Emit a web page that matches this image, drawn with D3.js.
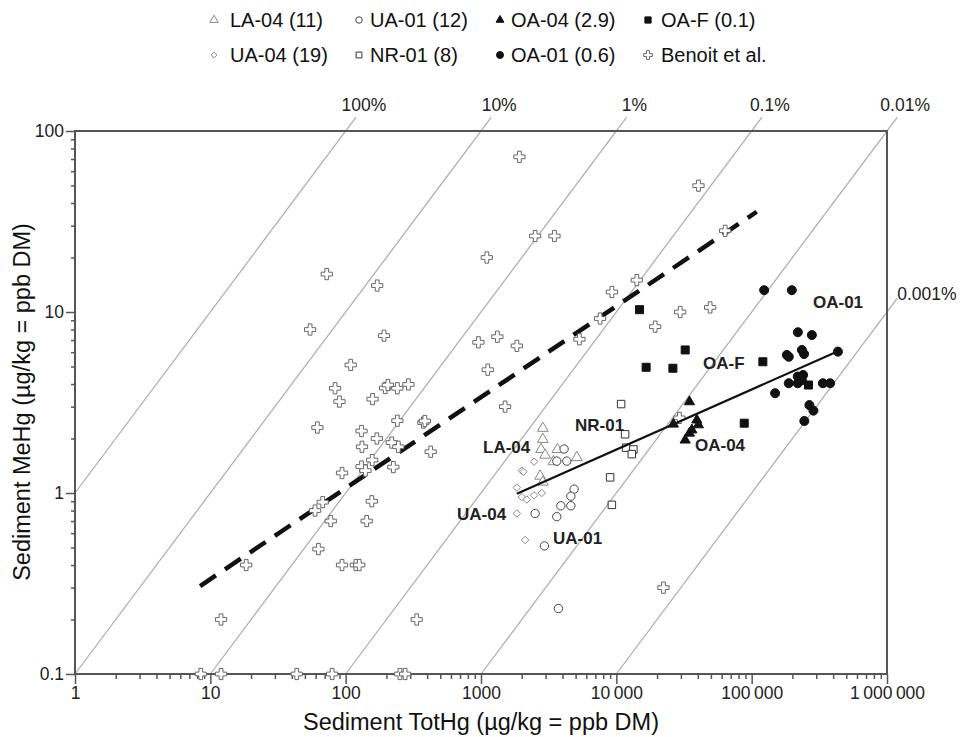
<!DOCTYPE html>
<html>
<head>
<meta charset="utf-8">
<script src="https://cdn.jsdelivr.net/npm/d3@7"></script>
<style>
  body { margin: 0; background: #fff; }
  svg { display: block; font-family: "Liberation Sans", Arial, Helvetica, sans-serif; }
</style>
</head>
<body>
<svg id="chart" width="969" height="737"></svg>
<script>
// MeHg vs TotHg in sediment, log-log
const xTicks = [1, 10, 100, 1000, 10000, 100000, 1000000];
const yTicks = [0.1, 1, 10, 100];
const ratios = [1, 0.1, 0.01, 0.001, 0.0001, 0.00001];
const ratioLabels = ["100%", "10%", "1%", "0.1%", "0.01%", "0.001%"];

const la04 = [[2864, 2.28], [2864, 1.98], [2780, 1.74], [2978, 1.62], [3672, 1.74], [3428, 1.49],
  [5105, 1.57], [2735, 1.24], [2864, 1.15]];
const ua01 = [[4113, 1.75], [3631, 1.5], [4306, 1.5], [4875, 1.05], [4613, 0.96], [3890, 0.85],
  [4613, 0.85], [2512, 0.77], [3631, 0.74], [2942, 0.51], [3733, 0.23]];
const ua04 = [[2467, 1.49], [2004, 1.33], [2060, 1.31], [1841, 1.07], [2004, 0.95], [2180, 0.92],
  [2467, 0.97], [2813, 1.0], [1841, 0.77], [2118, 0.55]];
const nr01 = [[10850, 3.1], [11610, 2.11], [11810, 1.78], [13370, 1.74], [13010, 1.64], [8995, 1.22], [9268, 0.86]];
const oa04 = [[34700, 3.19], [26400, 2.4], [39350, 2.53], [40400, 2.38], [36140, 2.23], [34700, 2.14], [32260, 1.96]];
const oaf = [[14830, 10.3], [16600, 4.95], [26180, 4.89], [32260, 6.17], [121000, 5.31], [263000, 3.95], [88100, 2.43]];
const oa01 = [[123700, 13.2], [198000, 13.2], [219500, 7.73], [278500, 7.46], [182000, 5.79], [188000, 5.66],
  [235000, 6.17], [244000, 5.86], [434000, 6.04], [219000, 4.4], [240000, 4.49], [219000, 4.04], [188000, 4.04],
  [235000, 4.2], [336000, 4.04], [380000, 4.04], [149000, 3.56], [267000, 3.06], [286000, 2.85], [245000, 2.5]];
const benoit = [[72.5, 16.2], [171, 14.0], [54.6, 8.0], [192, 7.4], [109, 5.1], [83.5, 3.79], [90, 3.2],
  [158, 3.3], [196, 3.8], [205, 3.95], [241, 3.79], [291, 3.98], [957, 6.8], [61.8, 2.3], [131, 2.2],
  [241, 2.51], [375, 2.45], [385, 2.5], [132, 1.8], [170, 2.0], [219, 1.9], [245, 1.8], [425, 1.69],
  [157, 1.52], [131, 1.4], [140, 1.33], [225, 1.39], [94, 1.29], [156, 0.9], [67.7, 0.89], [59.4, 0.8],
  [77.6, 0.7], [143, 0.7], [62.9, 0.49], [18.4, 0.4], [94, 0.4], [119, 0.4], [126, 0.4], [12, 0.2],
  [335, 0.2], [8.5, 0.1], [12, 0.1], [43.5, 0.1], [79.4, 0.1], [252, 0.1], [275, 0.1],
  [1104, 20], [1321, 7.3], [1841, 6.5], [1122, 4.8], [1507, 3.0], [5335, 7.07], [7586, 9.2], [9268, 12.9],
  [14170, 15.0], [19360, 8.3], [22300, 0.3], [1923, 72], [2512, 26.3], [3490, 26.3], [40460, 49.9],
  [63700, 28.1], [29630, 10.0], [49320, 10.6], [29260, 2.6]];

const benoitFit = [[8.4, 0.306], [109000, 35.8]];
const studyFit = [[1841, 0.99], [426000, 6.04]];

const siteLabels = [
  { text: "OA-01", x: 813, y: 308 }, { text: "OA-F", x: 703, y: 369 }, { text: "OA-04", x: 695, y: 451 },
  { text: "NR-01", x: 575, y: 431 }, { text: "LA-04", x: 483, y: 453 }, { text: "UA-04", x: 457, y: 520 },
  { text: "UA-01", x: 553, y: 544 }
];

const svg = d3.select("#chart");
const x = d3.scaleLog().domain([1, 1e6]).range([75, 887]);
const y = d3.scaleLog().domain([0.1, 100]).range([674, 131]);
const axisColor = "#555";

// square diamond (d3's own diamond is too narrow)
const symbolRhomb = {
  draw(ctx, size) {
    const r = Math.sqrt(size) * 0.62;
    ctx.moveTo(0, -r); ctx.lineTo(r, 0); ctx.lineTo(0, r); ctx.lineTo(-r, 0); ctx.closePath();
  }
};

// diagonal ratio lines
const pxDx = x(10) - x(1), pxDy = y(1) - y(10);
const dirLen = Math.hypot(pxDx, pxDy);
ratios.forEach((r, i) => {
  const start = r >= 0.1 ? [1, r] : [0.1 / r, 0.1];
  const topX = 100 / r;
  const end = topX <= 1e6 ? [topX, 100] : [1e6, r * 1e6];
  const x1 = x(start[0]), y1 = y(start[1]);
  const ext = 17;
  const x2 = x(end[0]) + ext * pxDx / dirLen, y2 = y(end[1]) - ext * pxDy / dirLen;
  svg.append("line").attr("x1", x1).attr("y1", y1).attr("x2", x2).attr("y2", y2)
    .attr("stroke", "#aaa").attr("stroke-width", 1.2);
  const onTop = topX <= 1e6;
  svg.append("text")
    .attr("x", onTop ? x2 + 8 : x2)
    .attr("y", onTop ? y2 - 6 : y2 + 2)
    .attr("text-anchor", onTop ? "middle" : "start")
    .attr("font-size", 17.5).attr("fill", "#222")
    .text(ratioLabels[i]);
});

// frame
svg.append("rect").attr("x", 75).attr("y", 131).attr("width", 887 - 75).attr("height", 674 - 131)
  .attr("fill", "none").attr("stroke", axisColor).attr("stroke-width", 2);

// axes
const xMinor = [], yMinor = [];
for (let d = 1; d < 1e6; d *= 10) for (let k = 2; k < 10; k++) xMinor.push(d * k);
for (let d = 0.1; d < 100; d *= 10) for (let k = 2; k < 10; k++) yMinor.push(+(d * k).toPrecision(3));

const fmtX = d => d >= 10000 ? d3.format(",")(d).replace(/,/g, "\u2009") : String(d);
const fmtY = d => d < 1 ? "0.1" : String(d);

function styleAxis(g) {
  g.select(".domain").remove();
  g.selectAll("line").attr("stroke", axisColor).attr("stroke-width", 1.5);
  g.selectAll("text").attr("fill", "#222").attr("font-size", 17.5).attr("font-family", "Liberation Sans, Arial, sans-serif");
}

svg.append("g").attr("transform", "translate(0,674)")
  .call(d3.axisBottom(x).tickValues(xMinor).tickSize(5).tickFormat(""))
  .call(styleAxis);
svg.append("g").attr("transform", "translate(0,674)")
  .call(d3.axisBottom(x).tickValues(xTicks).tickSize(10).tickPadding(3).tickFormat(fmtX))
  .call(styleAxis);
svg.append("g").attr("transform", "translate(75,0)")
  .call(d3.axisLeft(y).tickValues(yMinor).tickSize(4).tickFormat(""))
  .call(styleAxis);
svg.append("g").attr("transform", "translate(75,0)")
  .call(d3.axisLeft(y).tickValues(yTicks).tickSize(9).tickPadding(2).tickFormat(fmtY))
  .call(styleAxis);

// axis titles
svg.append("text").attr("x", 481).attr("y", 730).attr("text-anchor", "middle")
  .attr("font-size", 23.5).attr("fill", "#111").text("Sediment TotHg (\u00b5g/kg = ppb DM)");
svg.append("text").attr("transform", "translate(30,402) rotate(-90)").attr("text-anchor", "middle")
  .attr("font-size", 23.5).attr("fill", "#111").text("Sediment MeHg (\u00b5g/kg = ppb DM)");

// regression lines
const line = d3.line().x(d => x(d[0])).y(d => y(d[1]));
svg.append("path").datum(benoitFit).attr("d", line).attr("fill", "none")
  .attr("stroke", "#111").attr("stroke-width", 4.5).attr("stroke-dasharray", "19,11");

// series
const series = [
  { name: "LA-04 (11)", data: la04, type: d3.symbolTriangle, size: 50, fill: "#fff", stroke: "#888" },
  { name: "UA-01 (12)", data: ua01, type: d3.symbolCircle, size: 55, fill: "#fff", stroke: "#444" },
  { name: "OA-04 (2.9)", data: oa04, type: d3.symbolTriangle, size: 45, fill: "#111", stroke: "#111" },
  { name: "OA-F (0.1)", data: oaf, type: d3.symbolSquare, size: 64, fill: "#111", stroke: "#111" },
  { name: "UA-04 (19)", data: ua04, type: symbolRhomb, size: 36, fill: "#fff", stroke: "#888" },
  { name: "NR-01 (8)", data: nr01, type: d3.symbolSquare, size: 56, fill: "#fff", stroke: "#333" },
  { name: "OA-01 (0.6)", data: oa01, type: d3.symbolCircle, size: 64, fill: "#111", stroke: "#111" },
  { name: "Benoit et al.", data: benoit, type: d3.symbolCross, size: 70, fill: "#fff", stroke: "#666" }
];

const drawOrder = [7, 4, 0, 1, 5, 3, 2, 6];
drawOrder.forEach(i => {
  const s = series[i];
  svg.append("g").selectAll("path").data(s.data).join("path")
    .attr("transform", d => `translate(${x(d[0])},${y(d[1])})`)
    .attr("d", d3.symbol().type(s.type).size(s.size))
    .attr("fill", s.fill).attr("stroke", s.stroke).attr("stroke-width", 1);
});

svg.append("path").datum(studyFit).attr("d", line).attr("fill", "none")
  .attr("stroke", "#111").attr("stroke-width", 2.2);

// site labels
svg.append("g").selectAll("text").data(siteLabels).join("text")
  .attr("x", d => d.x).attr("y", d => d.y)
  .attr("font-size", 17).attr("font-weight", "bold").attr("fill", "#222")
  .text(d => d.text);

// legend
const legX = [214, 359, 500, 648];
const legTextX = [230, 370, 511, 661];
const legRowY = [20, 55];
series.forEach((s, i) => {
  const col = i % 4, row = Math.floor(i / 4);
  const g = svg.append("g");
  g.append("path").attr("transform", `translate(${legX[col]},${legRowY[row]})`)
    .attr("d", d3.symbol().type(s.type).size(s.size * 0.6))
    .attr("fill", s.fill).attr("stroke", s.stroke).attr("stroke-width", 1);
  g.append("text").attr("x", legTextX[col]).attr("y", legRowY[row] + 7)
    .attr("font-size", 20).attr("fill", "#111").text(s.name);
});
</script>
</body>
</html>
